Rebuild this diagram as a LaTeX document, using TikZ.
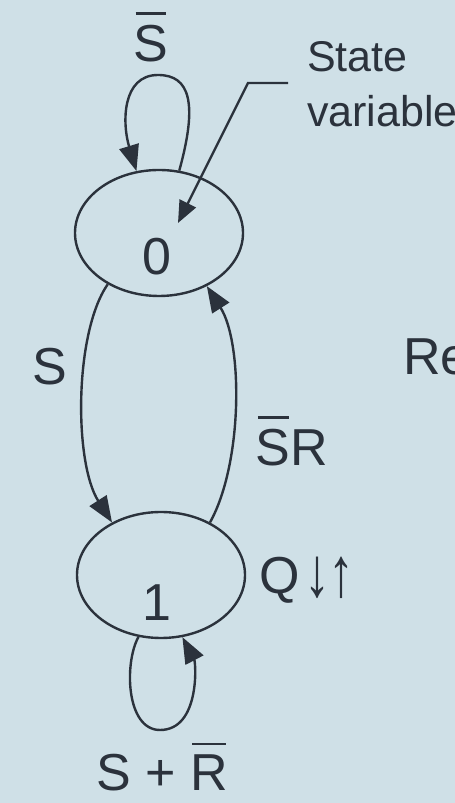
\documentclass[tikz,border=0pt]{standalone}
\usepackage{fontspec}
\setmainfont{Liberation Sans}
\usetikzlibrary{shapes.geometric,arrows.meta}
\definecolor{paper}{HTML}{CFE0E7}
\definecolor{ink}{HTML}{2B323C}
% letter(s) with a complement bar above
\newcommand\cmpl[1]{\setbox0\hbox{#1}\rlap{\hspace{2pt}\raisebox{\dimexpr\ht0+10pt\relax}{\rule{\dimexpr\wd0-4pt\relax}{2.6pt}}}\box0}
\begin{document}
\begin{tikzpicture}[x=1pt,y=1pt,
  every node/.style={text=ink},
  state/.style={ellipse,draw=ink,line width=2.4pt,inner sep=0pt,minimum width=168pt,minimum height=126pt},
  lbl/.style={font=\fontsize{52}{56}\selectfont,inner sep=0pt},
  note/.style={font=\fontsize{43}{48}\selectfont,inner sep=0pt,anchor=west},
  trans/.style={draw=ink,line width=2.4pt,-{Triangle[length=26pt,width=20pt]}}]
  \fill[paper] (0,0) rectangle (455,803);
  \useasboundingbox (0,0) rectangle (455,803);

  % states
  \node[state] (e0) at (159,570) {};
  \node[state] (e1) at (161,228) {};
  \node[lbl] (n0) at (157,546) {0};
  \node[lbl] (n1) at (157,200) {1};

  % self loops
  \draw[trans] (e0.72) .. controls (198,700) and (190,728) .. (158,728)
                       .. controls (122,728) and (122,680) .. (e0.110);
  \draw[trans] (e1.250) .. controls (124,140) and (126,73) .. (160,73)
                        .. controls (200,73) and (196,140) .. (e1.289);

  % transitions between states
  \draw[trans] (e0.225) .. controls (74,470) and (74,340) .. (e1.133);
  \draw[trans] (e1.47) .. controls (243,340) and (243,460) .. (e0.312);

  % state variable pointer
  \coordinate (sv) at (288,720);
  \coordinate (svk) at (248,720);
  \coordinate (svt) at (178,580);
  \draw[draw=ink,line width=2.4pt,-{Triangle[length=22pt,width=18pt]}] (sv) -- (svk) -- (svt);
  \node[note] (st1) at (307,746) {State};
  \node[note] (st2) at (307,692) {variable};

  % transition and output labels
  \node[lbl] (ls0) at (151,766) {\cmpl{S}};
  \node[lbl] (ls) at (50,436) {S};
  \node[lbl] (lsr) at (292,362) {\cmpl{S}R};
  \node[lbl] (lq) at (307,223) {Q\hspace{4pt}\raisebox{-3pt}{\scalebox{1}[1.35]{↓\hspace{-2pt}↑}}};
  \node[lbl] (lsr1) at (162,36) {S + \cmpl{R}};
  \node[lbl,anchor=west] (re) at (403,446) {Re};
\end{tikzpicture}
\end{document}
